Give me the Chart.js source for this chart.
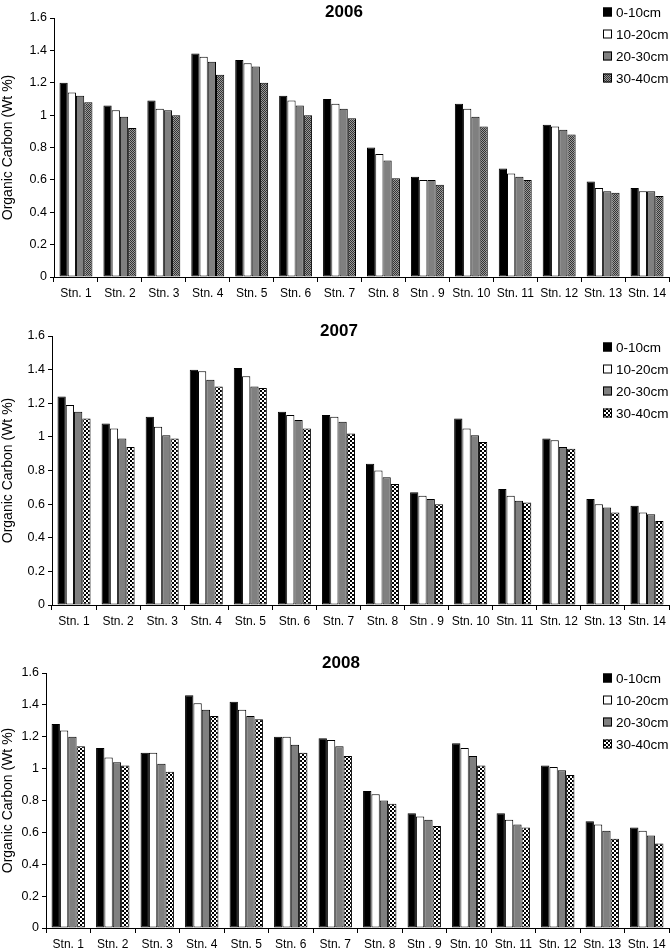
<!DOCTYPE html>
<html>
<head>
<meta charset="utf-8">
<script src="https://cdn.jsdelivr.net/npm/chart.js@4.4.0/dist/chart.umd.min.js"></script>
<style>
  html, body { margin: 0; padding: 0; background: #fff; }
  body { width: 671px; height: 951px; position: relative; overflow: hidden; }
  .panel { position: absolute; left: 0; width: 671px; }
</style>
</head>
<body>
<div class="panel" style="top:0;height:307px"><canvas id="c2006"></canvas></div>
<div class="panel" style="top:310px;height:325px"><canvas id="c2007"></canvas></div>
<div class="panel" style="top:640px;height:311px"><canvas id="c2008"></canvas></div>

<script>
// categories and tick labels
const stations = ['Stn. 1', 'Stn. 2', 'Stn. 3', 'Stn. 4', 'Stn. 5', 'Stn. 6', 'Stn. 7',
                  'Stn. 8', 'Stn . 9', 'Stn. 10', 'Stn. 11', 'Stn. 12', 'Stn. 13', 'Stn. 14'];
const depths = ['0-10cm', '10-20cm', '20-30cm', '30-40cm'];
const yTickLabels = ['0', '0.2', '0.4', '0.6', '0.8', '1', '1.2', '1.4', '1.6'];

// organic carbon (Wt %)
const oc2006_0_10  = [1.20, 1.06, 1.09, 1.38, 1.34, 1.12, 1.10, 0.80, 0.62, 1.07, 0.67, 0.94, 0.59, 0.55];
const oc2006_10_20 = [1.14, 1.03, 1.04, 1.36, 1.32, 1.09, 1.07, 0.76, 0.60, 1.04, 0.64, 0.93, 0.55, 0.53];
const oc2006_20_30 = [1.12, 0.99, 1.03, 1.33, 1.30, 1.06, 1.04, 0.72, 0.60, 0.99, 0.62, 0.91, 0.53, 0.53];
const oc2006_30_40 = [1.08, 0.92, 1.00, 1.25, 1.20, 1.00, 0.98, 0.61, 0.57, 0.93, 0.60, 0.88, 0.52, 0.50];

const oc2007_0_10  = [1.24, 1.08, 1.12, 1.40, 1.41, 1.15, 1.13, 0.84, 0.67, 1.11, 0.69, 0.99, 0.63, 0.59];
const oc2007_10_20 = [1.19, 1.05, 1.06, 1.39, 1.36, 1.13, 1.12, 0.80, 0.65, 1.05, 0.65, 0.98, 0.60, 0.55];
const oc2007_20_30 = [1.15, 0.99, 1.01, 1.34, 1.30, 1.10, 1.09, 0.76, 0.63, 1.01, 0.62, 0.94, 0.58, 0.54];
const oc2007_30_40 = [1.11, 0.94, 0.99, 1.30, 1.29, 1.05, 1.02, 0.72, 0.60, 0.97, 0.61, 0.93, 0.55, 0.50];

const oc2008_0_10  = [1.28, 1.13, 1.10, 1.46, 1.42, 1.20, 1.19, 0.86, 0.72, 1.16, 0.72, 1.02, 0.67, 0.63];
const oc2008_10_20 = [1.24, 1.07, 1.10, 1.41, 1.37, 1.20, 1.18, 0.84, 0.70, 1.13, 0.68, 1.01, 0.65, 0.61];
const oc2008_20_30 = [1.20, 1.04, 1.03, 1.37, 1.33, 1.15, 1.14, 0.80, 0.68, 1.08, 0.65, 0.99, 0.61, 0.58];
const oc2008_30_40 = [1.14, 1.02, 0.98, 1.33, 1.31, 1.10, 1.08, 0.78, 0.64, 1.02, 0.63, 0.96, 0.56, 0.53];

const FONT = 'Liberation Sans, Arial, sans-serif';

// small checkerboard fill for the deepest layer
function checker(c1, c2, cell) {
    const cv = document.createElement('canvas');
    cv.width = cell * 2;
    cv.height = cell * 2;
    const g = cv.getContext('2d');
    g.fillStyle = c1;
    g.fillRect(0, 0, cell * 2, cell * 2);
    g.fillStyle = c2;
    g.fillRect(0, 0, cell, cell);
    g.fillRect(cell, cell, cell, cell);
    return g.createPattern(cv, 'repeat');
}

// title + legend drawn at fixed spots, like the original figure
const panelDeco = {
    id: 'panelDeco',
    afterDraw(chart, args, opts) {
        const ctx = chart.ctx;
        ctx.save();
        ctx.fillStyle = '#000';
        ctx.font = 'bold 17px ' + FONT;
        ctx.textAlign = 'center';
        ctx.textBaseline = 'middle';
        ctx.fillText(opts.title, opts.titleX, opts.titleY);

        ctx.font = '13.5px ' + FONT;
        ctx.textAlign = 'left';
        chart.data.datasets.forEach((ds, i) => {
            const y = opts.legendY + i * 22;
            ctx.fillStyle = ds.backgroundColor;
            ctx.fillRect(opts.legendX, y - 4.5, 9, 9);
            ctx.strokeStyle = '#000';
            ctx.lineWidth = 1;
            ctx.strokeRect(opts.legendX + 0.5, y - 4, 8, 8);
            ctx.fillStyle = '#000';
            ctx.fillText(ds.label, opts.legendX + 13, y + 1);
        });
        ctx.restore();
    }
};

function makeChart(id, year, series, deep, lay) {
    const fills = ['#000000', '#ffffff', '#808080', deep];
    new Chart(document.getElementById(id), {
        type: 'bar',
        data: {
            labels: stations,
            datasets: series.map((vals, i) => ({
                label: depths[i],
                data: vals,
                backgroundColor: fills[i],
                borderColor: '#000',
                borderWidth: 1,
                borderSkipped: false,
                categoryPercentage: 0.75,
                barPercentage: 1.0
            }))
        },
        plugins: [panelDeco],
        options: {
            responsive: true,
            maintainAspectRatio: false,
            animation: false,
            layout: { padding: { top: lay.top, right: 2, left: 0, bottom: 0 } },
            scales: {
                x: {
                    grid: { display: true, offset: true, drawOnChartArea: false, tickLength: 5, color: '#000' },
                    border: { display: true, color: '#000', width: 1 },
                    ticks: { color: '#000', font: { family: FONT, size: 12 }, padding: 4, maxRotation: 0, autoSkip: false },
                    afterFit: (scale) => { scale.height = lay.xh; }
                },
                y: {
                    min: 0,
                    max: 1.6,
                    grid: { display: true, drawOnChartArea: false, tickLength: 4, color: '#000' },
                    border: { display: true, color: '#000', width: 1 },
                    ticks: {
                        stepSize: 0.2,
                        color: '#000',
                        padding: 3,
                        font: { family: FONT, size: 12.5 },
                        callback: (value, index) => yTickLabels[index]
                    },
                    title: {
                        display: true,
                        text: 'Organic Carbon (Wt %)',
                        color: '#000',
                        font: { family: FONT, size: 14 },
                        padding: { top: 0, bottom: 2 }
                    },
                    afterFit: (scale) => { scale.width = lay.left; }
                }
            },
            plugins: {
                legend: { display: false },
                tooltip: { enabled: false },
                panelDeco: {
                    title: year,
                    titleX: lay.titleX,
                    titleY: lay.titleY,
                    legendX: 603,
                    legendY: lay.legendY
                }
            }
        }
    });
}

makeChart('c2006', '2006', [oc2006_0_10, oc2006_10_20, oc2006_20_30, oc2006_30_40],
    checker('#9a9a9a', '#333333', 1),
    { top: 18, xh: 30, left: 54, titleX: 344, titleY: 12, legendY: 12 });

makeChart('c2007', '2007', [oc2007_0_10, oc2007_10_20, oc2007_20_30, oc2007_30_40],
    checker('#ffffff', '#000000', 2),
    { top: 26, xh: 30, left: 52, titleX: 339, titleY: 21, legendY: 37 });

makeChart('c2008', '2008', [oc2008_0_10, oc2008_10_20, oc2008_20_30, oc2008_30_40],
    checker('#ffffff', '#000000', 2),
    { top: 33, xh: 23, left: 46, titleX: 341, titleY: 23, legendY: 38 });
</script>
</body>
</html>
